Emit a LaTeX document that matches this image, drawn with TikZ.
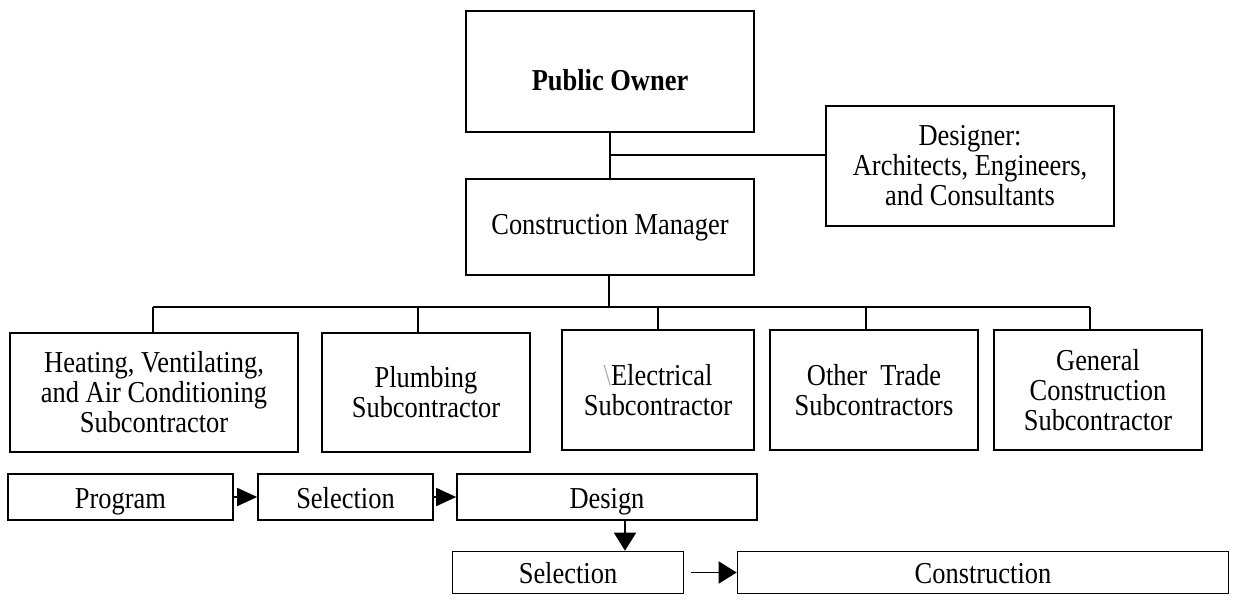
\documentclass[tikz,border=0pt]{standalone}
\usepackage{fontspec}
\setmainfont{Liberation Serif}[FakeStretch=0.87]
\usetikzlibrary{arrows.meta}
\begin{document}
\begin{tikzpicture}[x=0.5pt,y=-0.5pt,
  box/.style={draw,line width=0.8pt,rectangle,inner sep=0pt,
    font=\fontsize{15.2pt}{15pt}\selectfont},
  multi/.style={box,align=center},
  one/.style={box,text height=10.5pt,text depth=3.2pt},
  step box/.style={box,text height=12.5pt,text depth=1.5pt},
  conn/.style={line width=0.8pt},
  arr/.style={line width=0.8pt,-{Triangle[length=10pt,width=9pt]}},
  bigarr/.style={line width=0.8pt,-{Triangle[length=9pt,width=11pt]}}]
\useasboundingbox (0,0) rectangle (1233,601);
% top
\node[box,minimum width=144pt,minimum height=60.5pt] (owner) at (610,71.5) {};
\node[font=\fontsize{15.2pt}{15pt}\selectfont\bfseries] (ownertext) at (610,80) {Public Owner};
\node[multi,minimum width=144pt,minimum height=60pt] (designer) at (970,166)
  {Designer:\\Architects, Engineers,\\and Consultants};
\node[one,minimum width=144pt,minimum height=48pt] (cm) at (610,227) {Construction Manager};
% subcontractors
\node[multi,minimum width=144pt,minimum height=59.5pt] (hvac) at (154,392.5)
  {Heating, Ventilating,\\and Air Conditioning\\Subcontractor};
\node[multi,minimum width=104pt,minimum height=59.5pt] (plumb) at (426,392.5)
  {Plumbing\\Subcontractor};
\node[multi,minimum width=96pt,minimum height=60pt] (elec) at (658,390)
  {{\color{black!35}\textbackslash}Electrical\\Subcontractor};
\node[multi,minimum width=104pt,minimum height=60pt] (other) at (874,390)
  {Other\ \ Trade\\Subcontractors};
\node[multi,minimum width=104pt,minimum height=60pt] (general) at (1098,390)
  {General\\Construction\\Subcontractor};
% process row
\node[step box,minimum width=112.5pt,minimum height=23pt] (program) at (120.5,497) {Program};
\node[step box,minimum width=87.5pt,minimum height=23pt] (sel1) at (345.5,497) {Selection};
\node[step box,minimum width=150pt,minimum height=23pt] (design) at (607,497) {Design};
\node[step box,minimum width=115.5pt,minimum height=21pt] (sel2) at (568,572.5) {Selection};
\node[step box,minimum width=245.5pt,minimum height=21pt] (constr) at (983,572.5) {Construction};
% org connectors
\coordinate (j1) at (610,155);
\draw[conn] (owner.south) -- (cm.north);
\draw[conn] (j1) -- (j1 -| designer.west);
\coordinate (busL) at (153,307);
\coordinate (busR) at (1090,307);
\draw[conn] (busL) -- (busR);
\draw[conn] ([xshift=-0.5pt]cm.south) -- ([xshift=-0.5pt]cm.south |- busL);
\draw[conn] (busL) -- (busL |- hvac.north);
\draw[conn] ([xshift=-4pt]plumb.north |- busL) -- ([xshift=-4pt]plumb.north);
\draw[conn] (elec.north |- busL) -- (elec.north);
\draw[conn] ([xshift=-4pt]other.north |- busL) -- ([xshift=-4pt]other.north);
\draw[conn] (busR) -- (busR |- general.north);
% process arrows
\draw[arr] (program.east) -- (sel1.west);
\draw[arr] (sel1.east) -- (design.west);
\draw[bigarr] ([xshift=9pt]design.south) -- ([xshift=9pt]design.south |- sel2.north);
\draw[bigarr] ([xshift=3.5pt]sel2.east) -- (constr.west);
\end{tikzpicture}
\end{document}
